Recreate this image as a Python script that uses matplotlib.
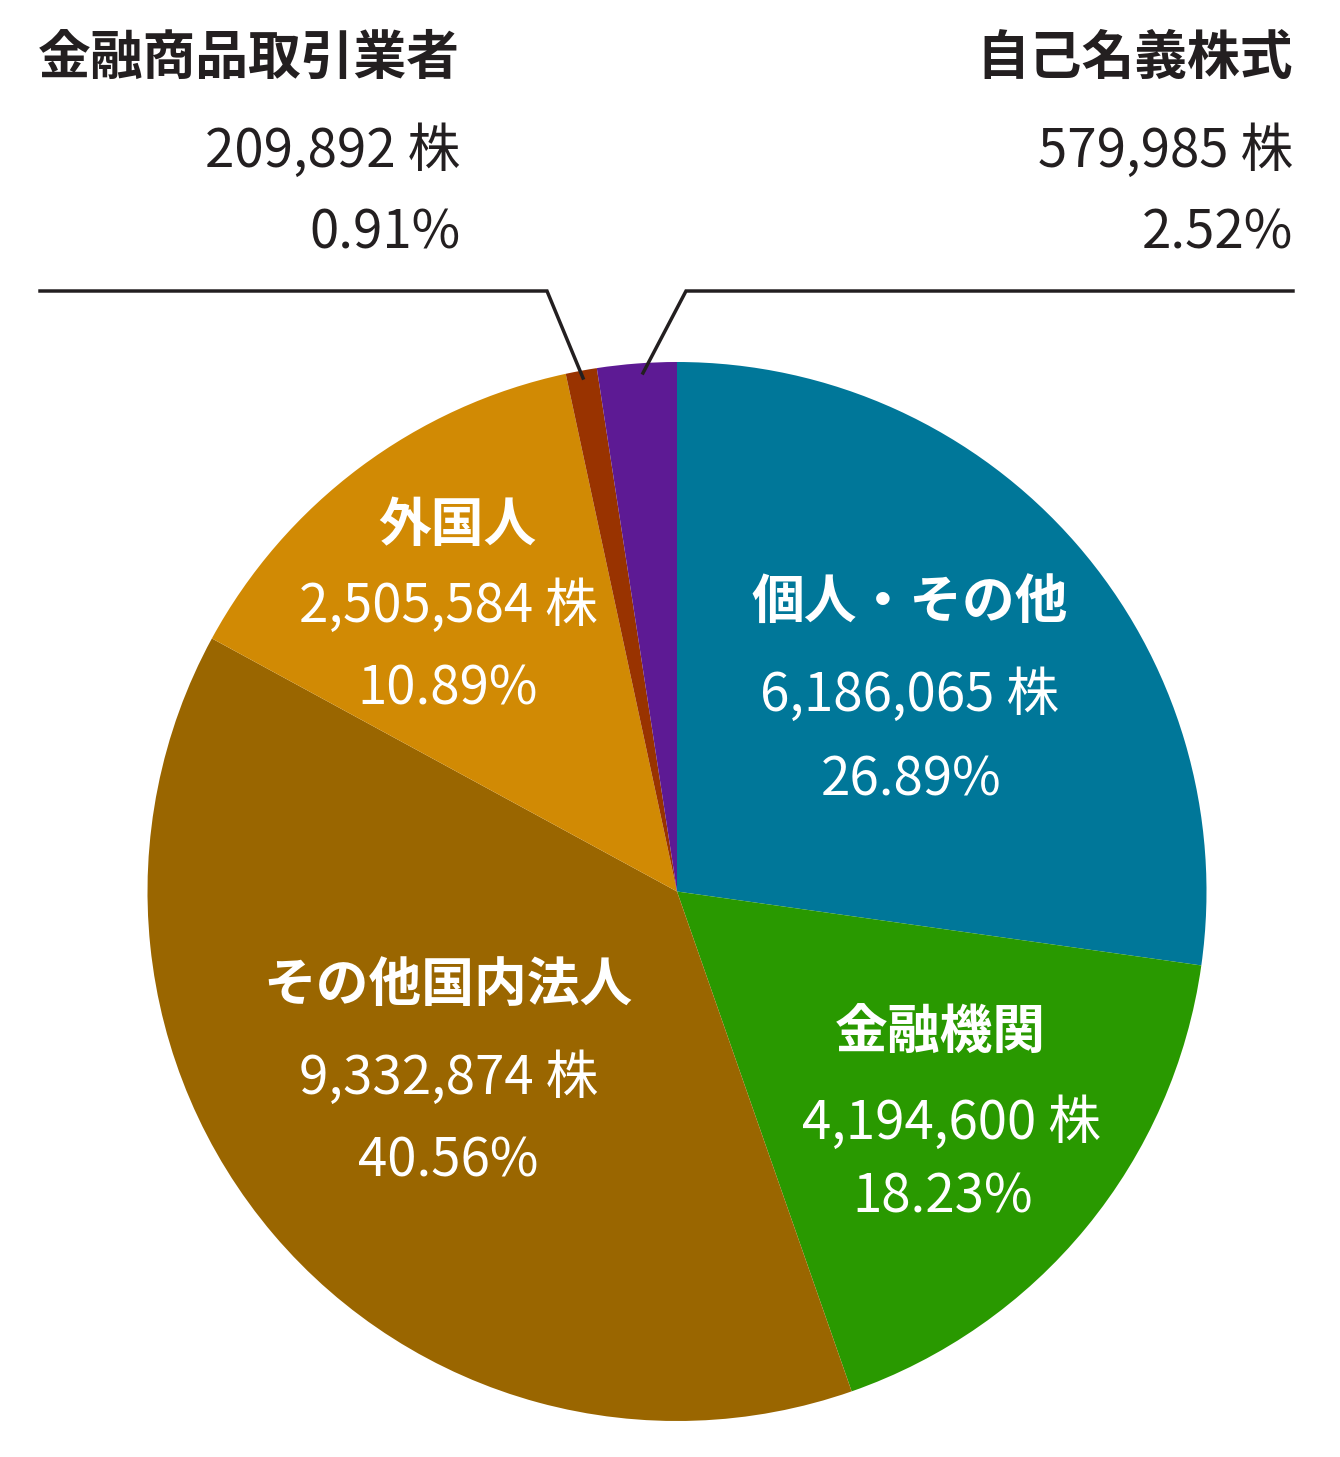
import matplotlib
matplotlib.use("Agg")
import matplotlib.pyplot as plt

plt.rcParams['font.family'] = ['Noto Sans CJK JP', 'DejaVu Sans']

# ---- data ----
categories = ["個人・その他", "金融機関", "その他国内法人", "外国人", "金融商品取引業者", "自己名義株式"]
shares = [6186065, 4194600, 9332874, 2505584, 209892, 579985]
percents = ["26.89%", "18.23%", "40.56%", "10.89%", "0.91%", "2.52%"]
# slice sizes as drawn in the picture (measured from wedge boundaries)
drawn_pct = [27.23, 17.42, 38.28, 13.70, 0.95, 2.42]
colors = ["#007799", "#299900", "#9A6600", "#D18A04", "#993300", "#5D1A94"]

W, H = 1340, 1457
fig = plt.figure(figsize=(W / 100, H / 100), dpi=100)
ax = fig.add_axes([0, 0, 1, 1])

def Y(y):
    return H - y

cx, cy, r = 677, 891.5, 529.5
ax.pie(drawn_pct, colors=colors, startangle=90, counterclock=False,
       center=(cx, Y(cy)), radius=r, frame=True,
       wedgeprops=dict(linewidth=0))
ax.set_xlim(0, W)
ax.set_ylim(0, H)
ax.set_aspect('equal')
ax.axis('off')

FS = 38
white = "white"
dark = "#231f20"

# inside labels: (title x, y), (num x, y), (pct x, y)
inside = {
    0: [(910, 602), (910, 695), (911, 780)],
    1: [(940, 1033), (951, 1123), (943, 1197)],
    2: [(448, 985), (449, 1078), (448, 1161)],
    3: [(457, 525), (448, 606), (448, 689)],
}
for i, pos in inside.items():
    (tx, ty), (nx, ny), (px, py) = pos
    ax.text(tx, Y(ty), categories[i], color=white, fontsize=FS, fontweight='bold',
            ha='center', va='center')
    ax.text(nx, Y(ny), f"{shares[i]:,} 株", color=white, fontsize=FS,
            ha='center', va='center')
    ax.text(px, Y(py), percents[i], color=white, fontsize=FS,
            ha='center', va='center')

# outside labels
outside = {4: 460, 5: 1293}
for i, rx in outside.items():
    ax.text(rx, Y(58), categories[i], color=dark, fontsize=FS, fontweight='bold',
            ha='right', va='center')
    ax.text(rx, Y(151), f"{shares[i]:,} 株", color=dark, fontsize=FS,
            ha='right', va='center')
    ax.text(rx, Y(233), percents[i], color=dark, fontsize=FS,
            ha='right', va='center')

# leader lines
ax.plot([40, 547, 583], [Y(291), Y(291), Y(378)], color=dark, lw=2.5,
        solid_joinstyle='miter')
ax.plot([1293, 686, 643], [Y(291), Y(291), Y(373)], color=dark, lw=2.5,
        solid_joinstyle='miter')

fig.savefig("out.png", dpi=100, facecolor="white")
